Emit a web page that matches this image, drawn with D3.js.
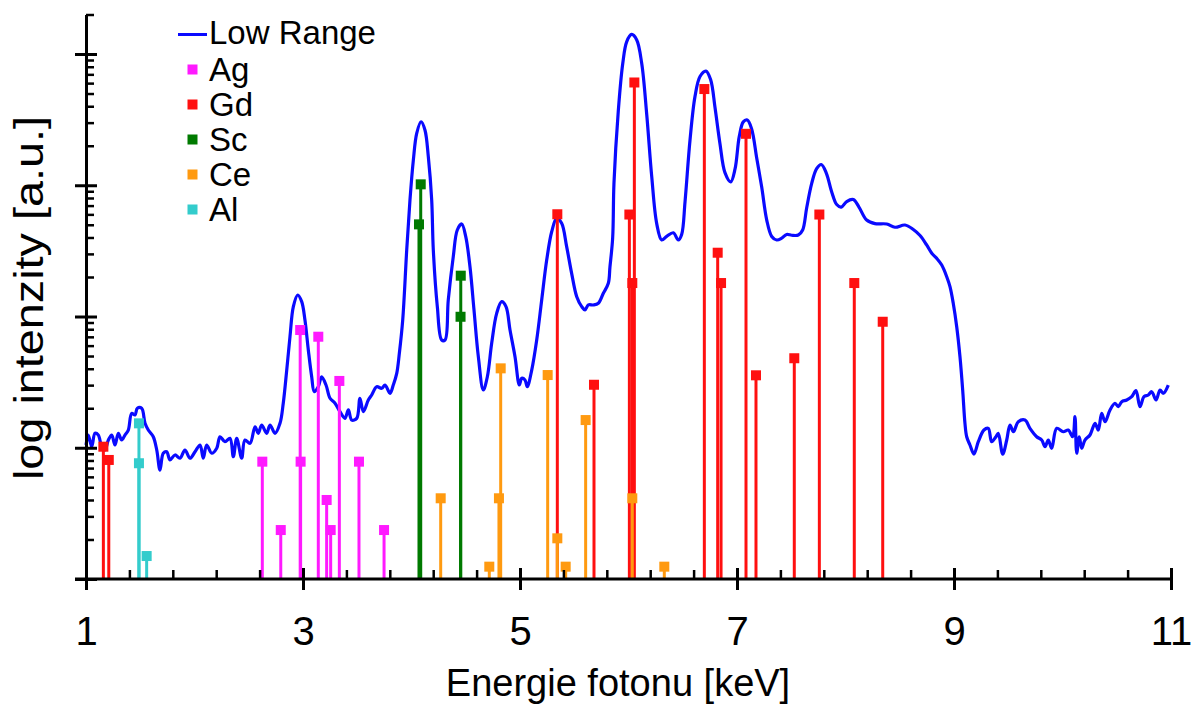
<!DOCTYPE html>
<html>
<head>
<meta charset="utf-8">
<script src="https://cdn.jsdelivr.net/npm/d3@7"></script>
<style>
  html, body { margin: 0; padding: 0; background: #fff; }
  svg { display: block; font-family: "Liberation Sans", Arial, Helvetica, sans-serif; }
</style>
</head>
<body>
<svg id="chart" width="1191" height="705"></svg>
<script>
// Measured "Low Range" spectrum: [photon energy keV, log10 intensity a.u.]
const lowRange = [
  [1.000,1.021],[1.021,1.097],[1.053,1.008],[1.083,1.110],[1.113,1.097],[1.145,1.008],[1.175,0.983],[1.206,1.059],
  [1.237,1.097],[1.267,1.021],[1.298,1.110],[1.329,1.059],[1.359,1.097],[1.390,1.135],[1.421,1.262],[1.452,1.250],
  [1.473,1.301],[1.513,1.301],[1.544,1.186],[1.574,1.135],[1.620,1.084],[1.652,0.983],[1.682,0.830],[1.712,0.958],
  [1.744,0.970],[1.774,0.907],[1.820,0.945],[1.866,0.920],[1.912,0.983],[1.959,0.920],[2.005,0.970],[2.051,1.021],
  [2.081,0.920],[2.112,1.021],[2.159,0.958],[2.205,0.996],[2.235,1.084],[2.281,1.046],[2.327,1.072],[2.358,0.932],
  [2.389,1.072],[2.435,0.920],[2.465,1.059],[2.512,1.034],[2.558,1.160],[2.588,1.110],[2.619,1.173],[2.665,1.110],
  [2.696,1.173],[2.742,1.110],[2.788,1.186],
  [2.818,1.339],[2.850,1.592],[2.880,1.846],[2.911,2.075],[2.951,2.164],[2.988,2.113],[3.018,1.973],[3.049,1.745],
  [3.080,1.541],[3.104,1.427],[3.141,1.465],[3.172,1.541],[3.212,1.478],[3.249,1.377],[3.295,1.339],[3.341,1.275],
  [3.387,1.224],[3.418,1.288],[3.449,1.211],[3.495,1.224],[3.525,1.377],[3.556,1.275],[3.602,1.364],[3.633,1.402],
  [3.679,1.465],[3.725,1.453],[3.756,1.478],[3.802,1.415],[3.832,1.478],[3.864,1.567],[3.888,1.720],[3.919,1.973],
  [3.956,2.507],[3.986,2.888],[4.017,3.192],[4.048,3.396],[4.088,3.484],[4.124,3.421],[4.155,3.218],[4.186,2.888],
  [4.201,2.507],[4.238,2.075],[4.278,1.821],[4.309,1.821],[4.339,2.126],[4.385,2.456],[4.422,2.659],[4.463,2.705],
  [4.500,2.608],[4.539,2.379],[4.576,2.050],[4.616,1.694],[4.662,1.440],[4.699,1.541],[4.739,1.796],[4.785,2.024],
  [4.831,2.113],[4.871,2.075],[4.908,1.897],[4.954,1.694],[4.994,1.478],[5.016,1.529],[5.046,1.516],[5.067,1.465],
  [5.108,1.592],[5.154,1.821],[5.200,2.126],[5.246,2.430],[5.292,2.646],[5.338,2.748],[5.384,2.710],[5.430,2.532],
  [5.476,2.329],[5.523,2.151],[5.569,2.075],[5.599,2.050],[5.630,2.088],[5.676,2.088],[5.722,2.101],[5.768,2.177],
  [5.814,2.253],[5.829,2.377],[5.854,2.598],[5.866,3.013],[5.906,3.566],[5.947,3.927],[5.983,4.093],[6.029,4.149],
  [6.076,4.107],[6.122,3.927],[6.168,3.539],[6.214,3.067],[6.260,2.708],[6.306,2.583],[6.352,2.610],[6.413,2.638],
  [6.459,2.583],[6.490,2.625],[6.521,2.874],[6.567,3.345],[6.613,3.677],[6.659,3.829],[6.714,3.870],[6.758,3.802],
  [6.797,3.594],[6.843,3.317],[6.889,3.096],[6.942,3.026],[6.982,3.124],[7.021,3.372],[7.058,3.483],[7.095,3.497],
  [7.135,3.429],[7.182,3.206],[7.228,2.984],[7.274,2.735],[7.320,2.610],[7.366,2.583],[7.412,2.597],[7.458,2.625],
  [7.504,2.619],[7.565,2.621],[7.605,2.659],[7.642,2.827],[7.688,3.013],[7.734,3.126],[7.777,3.158],[7.823,3.093],
  [7.873,2.949],[7.919,2.853],[7.961,2.834],[8.011,2.876],[8.072,2.891],[8.124,2.834],[8.195,2.735],[8.272,2.708],
  [8.380,2.705],[8.456,2.680],[8.548,2.697],[8.625,2.663],[8.687,2.617],[8.748,2.545],[8.795,2.482],[8.841,2.443],
  [8.887,2.392],[8.933,2.303],[8.963,2.227],[8.993,2.101],[9.025,1.922],[9.055,1.694],[9.080,1.440],[9.101,1.186],
  [9.117,1.084],[9.147,1.021],[9.184,0.952],[9.224,1.046],[9.276,1.135],[9.316,1.148],[9.347,1.046],[9.387,1.084],
  [9.408,1.110],[9.449,0.952],[9.486,1.059],[9.516,1.173],[9.547,1.122],[9.593,1.198],[9.654,1.211],[9.700,1.148],
  [9.762,1.084],[9.808,1.059],[9.839,1.008],[9.869,1.059],[9.900,0.996],[9.947,1.148],[10.007,1.122],[10.053,1.135],
  [10.094,1.084],[10.115,1.237],[10.131,0.958],[10.155,1.084],[10.177,0.996],[10.207,1.059],[10.253,1.097],[10.300,1.186],
  [10.330,1.135],[10.361,1.262],[10.392,1.198],[10.438,1.288],[10.484,1.339],[10.514,1.313],[10.546,1.351],[10.592,1.364],
  [10.638,1.389],[10.677,1.435],[10.714,1.313],[10.751,1.389],[10.791,1.402],[10.822,1.427],[10.862,1.364],[10.899,1.440],
  [10.929,1.415],[10.975,1.478]
];

// Characteristic emission lines: [energy keV, log10 relative intensity]
const agLines = [[2.625,0.894],[2.795,0.373],[2.974,1.897],[2.978,0.894],[3.141,1.846],[3.218,0.602],
                 [3.255,0.373],[3.335,1.509],[3.516,0.894],[3.747,0.373]];
const gdLines = [[1.160,1.008],[1.210,0.907],[5.344,2.779],[5.682,1.480],[6.054,3.783],[6.008,2.777],
                 [6.035,2.255],[6.699,3.733],[6.822,2.486],[6.853,2.255],[7.083,3.392],[7.175,1.552],
                 [7.528,1.682],[7.759,2.777],[8.081,2.255],[8.343,1.960]];
const scLines = [[4.085,3.007],[4.069,2.702],[4.454,2.311],[4.452,1.998]];
const ceLines = [[4.269,0.615],[4.717,0.094],[4.822,1.605],[4.806,0.615],[5.255,1.554],[5.344,0.310],
                 [5.421,0.094],[5.605,1.211],[6.035,0.615],[6.330,0.094]];
const alLines = [[1.488,1.186],[1.488,0.882],[1.559,0.175]];

const elementNames = ["Ag", "Gd", "Sc", "Ce", "Al"];
const elementLines = [agLines, gdLines, scLines, ceLines, alLines];
const elementColors = ["#ff1aff", "#ff1010", "#007a00", "#ff9a10", "#33cccc"];

const xMajorTicks = [1, 3, 5, 7, 9, 11];
const spectrumName = "Low Range";
const xTitle = "Energie fotonu [keV]";
const yTitle = "log intenzity [a.u.]";

const svg = d3.select("#chart");
const x = d3.scaleLinear().domain([1, 11]).range([86, 1171]);
const y = d3.scaleLinear().domain([0, Math.log10(20000)]).range([579, 14.5]);
const ink = "#000";

// spectrum curve
const line = d3.line()
  .x(d => x(d[0]))
  .y(d => y(d[1]))
  .curve(d3.curveCatmullRom.alpha(0.5));

svg.append("path")
  .datum(lowRange)
  .attr("d", line)
  .attr("fill", "none")
  .attr("stroke", "#0a0aff")
  .attr("stroke-width", 3.2)
  .attr("stroke-linejoin", "round");

// stem markers per element
elementLines.forEach((lines, i) => {
  const g = svg.append("g").attr("fill", elementColors[i]).attr("stroke", elementColors[i]);
  lines.forEach(d => {
    g.append("line")
      .attr("x1", x(d[0])).attr("x2", x(d[0]))
      .attr("y1", y(0)).attr("y2", y(d[1]))
      .attr("stroke-width", 3);
    g.append("rect")
      .attr("x", x(d[0]) - 5).attr("y", y(d[1]) - 5)
      .attr("width", 10).attr("height", 10)
      .attr("stroke", "none");
  });
});

// x axis: minor ticks (inside) every 0.4 keV, major ticks crossing the line
const xMinor = d3.axisBottom(x).tickValues(d3.range(1, 11.001, 0.4)).tickSize(-9).tickFormat("");
const gxm = svg.append("g").attr("transform", `translate(0,${y(0)})`).call(xMinor);
gxm.select(".domain").remove();
gxm.selectAll("line").attr("stroke", ink).attr("stroke-width", 2.5);

const xMajor = d3.axisBottom(x).tickValues(xMajorTicks).tickSize(10).tickPadding(28).tickSizeOuter(0);
const gx = svg.append("g").attr("transform", `translate(0,${y(0)})`).call(xMajor);
gx.select(".domain").attr("stroke", ink).attr("stroke-width", 3).attr("d", `M${x(1) - 11},0H${x(11)}`);
gx.selectAll(".tick line").attr("y1", -11).attr("y2", 11).attr("stroke", ink).attr("stroke-width", 3);
gx.selectAll(".tick text").attr("font-size", 40).attr("fill", ink)
  .attr("font-family", "'Liberation Sans', Arial, sans-serif");

// y axis: decades crossing the line, log minor ticks inside
const decades = d3.range(0, 5);
const yMinorVals = [];
decades.forEach(n => d3.range(2, 10).forEach(k => {
  const v = n + Math.log10(k);
  if (v <= Math.log10(20000) + 1e-9) yMinorVals.push(v);
}));
const yMinor = d3.axisLeft(y).tickValues(yMinorVals).tickSize(-8).tickFormat("");
const gym = svg.append("g").attr("transform", `translate(${x(1)},0)`).call(yMinor);
gym.select(".domain").remove();
gym.selectAll("line").attr("stroke", ink).attr("stroke-width", 2.5);

const yMajor = d3.axisLeft(y).tickValues(decades).tickSize(11).tickFormat("").tickSizeOuter(0);
const gy = svg.append("g").attr("transform", `translate(${x(1)},0)`).call(yMajor);
gy.select(".domain").attr("stroke", ink).attr("stroke-width", 3);
gy.selectAll(".tick line").attr("x1", -11).attr("x2", 11).attr("stroke", ink).attr("stroke-width", 3);

// axis titles
svg.append("text")
  .attr("x", 618).attr("y", 696)
  .attr("text-anchor", "middle")
  .attr("font-size", 38)
  .attr("fill", ink)
  .text(xTitle);

svg.append("text")
  .attr("transform", "translate(43,298) rotate(-90) scale(1.17,1)")
  .attr("text-anchor", "middle")
  .attr("font-size", 40)
  .attr("fill", ink)
  .text(yTitle);

// legend
const legend = svg.append("g");
legend.append("line")
  .attr("x1", 178).attr("x2", 207).attr("y1", 34.5).attr("y2", 34.5)
  .attr("stroke", "#0a0aff").attr("stroke-width", 3);
legend.append("text")
  .attr("x", 209).attr("y", 44).attr("font-size", 33).attr("fill", ink)
  .text(spectrumName);
elementNames.forEach((name, i) => {
  const cy = 69.5 + i * 35;
  legend.append("rect")
    .attr("x", 187.5).attr("y", cy - 5).attr("width", 10).attr("height", 10)
    .attr("fill", elementColors[i]);
  legend.append("text")
    .attr("x", 209).attr("y", cy + 11).attr("font-size", 33).attr("fill", ink)
    .text(name);
});
</script>
</body>
</html>
